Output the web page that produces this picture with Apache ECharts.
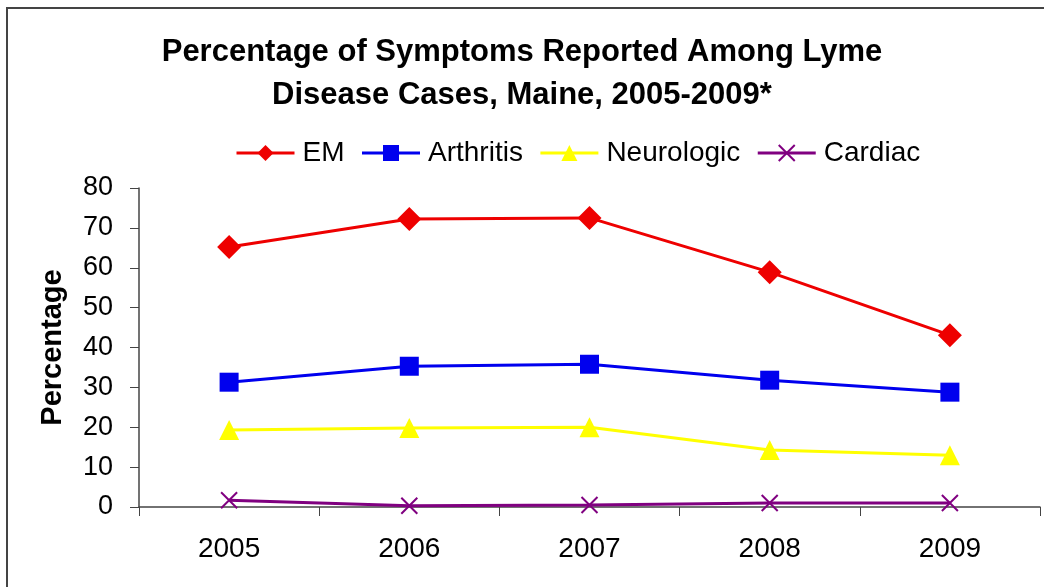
<!DOCTYPE html>
<html><head><meta charset="utf-8">
<script src="https://cdn.jsdelivr.net/npm/echarts@6/dist/echarts.min.js"></script>
<style>html,body{margin:0;padding:0;background:#fff}#c{width:1044px;height:587px}</style>
</head><body><div id="c"></div>
<script>
const years = ['2005','2006','2007','2008','2009'];
const em = [65.2, 72.2, 72.5, 58.9, 43.1];
const arthritis = [31.3, 35.3, 35.8, 31.8, 28.8];
const neurologic = [19.3, 19.8, 20.0, 14.3, 13.0];
const cardiac = [1.7, 0.3, 0.5, 1.0, 1.0];
const yTicks = [0, 80, 10];

const font = '"Liberation Sans", Arial, sans-serif';
const chart = echarts.init(document.getElementById('c'), null, {renderer: 'canvas'});
function mk(name, data, color, symbol, size, extra) {
  return Object.assign({
    name, type: 'line', data, symbol, symbolSize: size,
    lineStyle: {color, width: 3},
    itemStyle: {color, borderColor: color, borderWidth: 0},
    emphasis: {disabled: true}, animation: false
  }, extra || {});
}
chart.setOption({
  backgroundColor: '#fff',
  textStyle: {fontFamily: font},
  graphic: [{type: 'rect', shape: {x: 7, y: 8, width: 1100, height: 700},
    style: {fill: 'none', stroke: '#444', lineWidth: 2}, silent: true}],
  title: {
    text: 'Percentage of Symptoms Reported Among Lyme\nDisease Cases, Maine, 2005-2009*',
    left: 'center', top: 26,
    textStyle: {fontFamily: font, fontWeight: 'bold', fontSize: 31, color: '#000', lineHeight: 43}
  },
  legend: {
    top: 134, left: 230, itemWidth: 58, itemHeight: 20, itemGap: 16,
    lineStyle: {width: 3},
    textStyle: {fontFamily: font, fontSize: 28, color: '#000', padding: [0, 0, 0, 3]},
    data: ['EM', 'Arthritis', 'Neurologic', 'Cardiac']
  },
  grid: {left: 139, right: 4, top: 188, bottom: 80, containLabel: false},
  xAxis: {
    type: 'category', data: years, boundaryGap: true,
    axisLine: {lineStyle: {color: '#444', width: 1.5}},
    axisTick: {show: true, length: 9, lineStyle: {color: '#444'}},
    axisLabel: {fontFamily: font, fontSize: 28, color: '#000', margin: 28}
  },
  yAxis: {
    type: 'value', min: yTicks[0], max: yTicks[1], interval: yTicks[2],
    name: 'Percentage', nameLocation: 'middle', nameGap: 72, nameRotate: 90,
    nameTextStyle: {fontFamily: font, fontSize: 29, fontWeight: 'bold', color: '#000'},
    axisLine: {show: true, lineStyle: {color: '#444', width: 1.5}},
    axisTick: {show: true, length: 9, lineStyle: {color: '#444'}},
    splitLine: {show: false},
    axisLabel: {fontFamily: font, fontSize: 27, color: '#000', margin: 26}
  },
  series: [
    mk('EM', em, '#ee0000', 'diamond', 24),
    mk('Arthritis', arthritis, '#0000ee', 'rect', 19),
    mk('Neurologic', neurologic, '#ffff00', 'triangle', 20),
    mk('Cardiac', cardiac, '#800080', 'path://M0,0L10,10M10,0L0,10', 16,
       {itemStyle: {color: 'none', borderColor: '#800080', borderWidth: 2}})
  ]
});
</script></body></html>
